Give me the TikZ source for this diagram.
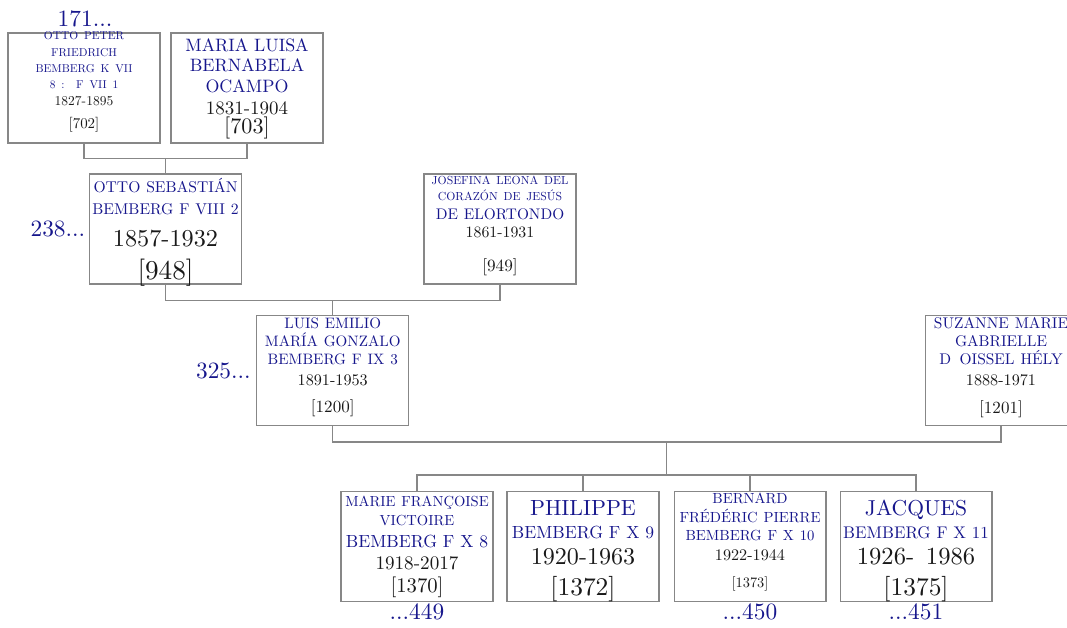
\documentclass[tikz,border=0pt]{standalone}
\usepackage{fontspec}
\setmainfont{lmroman10-regular}[Extension=.otf, BoldFont=lmroman10-bold,
  ItalicFont=lmroman10-italic, BoldItalicFont=lmroman10-bolditalic]
\usepackage{xcolor}
\usepackage{tikz}
\usetikzlibrary{positioning, calc}
\definecolor{nameBlue}{RGB}{22,22,140}
\definecolor{lineGray}{RGB}{135,135,135}
\definecolor{dateBlack}{RGB}{25,25,25}
\newcommand{\setfs}[2]{\fontsize{#1}{#2}\selectfont}
\newcommand{\nmc}{\color{nameBlue}}

\begin{document}
\begin{tikzpicture}[
    x=0.02cm, y=-0.02cm,
    person/.style={rectangle, draw=lineGray, line width=0.6pt, minimum width=3.04cm,
                   minimum height=2.2cm, inner sep=0pt},
    ptext/.style={text width=3.3cm, align=center, inner sep=0pt, text=dateBlack},
    link/.style={draw=lineGray, line width=0.6pt},
    refnum/.style={text=nameBlue, font=\setfs{13.3}{14}, inner sep=0pt},
  ]
    \useasboundingbox (0,0) rectangle (1067,628);

    % Grandparents
    \node[person] (p702) at (84,88) {};
    \node[ptext, below=-0.6pt of p702.north] (t702) {\setfs{6.5}{9.3}\nmc OTTO PETER\\ FRIEDRICH\\ BEMBERG K VII\\ 8 :\ \ F VII 1\par
      \color{dateBlack}\setfs{7.7}{9.3}1827-1895\par\setfs{8.5}{13.5}[702]\par};
    \node[person] (p703) at (247,88) {};
    \node[ptext, below=3.2pt of p703.north] (t703) {\setfs{10.2}{11.6}\nmc MARIA LUISA\\ BERNABELA\\ OCAMPO\par
      \color{dateBlack}\setfs{10.8}{12.5}1831-1904\par\setfs{12.6}{11.2}[703]\par};
    \node[refnum] (r171) at (85,19) {171...};

    % Parents
    \node[person] (p948) at (165.5,229) {};
    \node[ptext, below=2.8pt of p948.north] (t948) {\setfs{8.9}{12}\nmc OTTO SEBASTIÁN\\ BEMBERG F VIII 2\par
      \color{dateBlack}\setfs{13.8}{18.4}1857-1932\par\setfs{15.5}{18.6}[948]\par};
    \node[person] (p949) at (500,229) {};
    \node[ptext, below=1.2pt of p949.north] (t949) {\setfs{6.65}{9}\nmc JOSEFINA LEONA DEL\\ CORAZÓN DE JESÚS\par
      \setfs{8.75}{11}DE ELORTONDO\par
      \color{dateBlack}\setfs{9}{10}1861-1931\par\setfs{9.8}{19.8}[949]\par};
    \node[refnum, left=2pt of p948] (r238) {238...};

    % Couple
    \node[person] (p1200) at (332.75,370.5) {};
    \node[ptext, below=1.4pt of p1200.north] (t1200) {\setfs{8.6}{10.2}\nmc LUIS EMILIO\\ MARÍA GONZALO\\ BEMBERG F IX 3\par
      \color{dateBlack}\setfs{9.2}{12}1891-1953\par\setfs{9.7}{15.6}[1200]\par};
    \node[person] (p1201) at (1001,370.5) {};
    \node[ptext, below=1.4pt of p1201.north] (t1201) {\setfs{8.8}{10.2}\nmc SUZANNE MARIE\\ GABRIELLE\\ D\ \,OISSEL HÉLY\par
      \color{dateBlack}\setfs{9.2}{12}1888-1971\par\setfs{9.7}{15.6}[1201]\par};
    \node[refnum, left=3pt of p1200] (r325) {325...};

    % Children
    \node[person] (c1370) at (417,546.5) {};
    \node[ptext, below=2.5pt of c1370.north] (t1370) {\setfs{8.3}{10.8}\nmc MARIE FRANÇOISE\\ VICTOIRE\par
      \setfs{10}{12.6}BEMBERG F X 8\par
      \color{dateBlack}\setfs{10.9}{12.5}1918-2017\par\setfs{11.8}{13}[1370]\par};
    \node[person] (c1372) at (583,546.5) {};
    \node[ptext, below=5pt of c1372.north] (t1372) {\setfs{12.5}{14}\nmc PHILIPPE\par
      \setfs{10}{13.3}BEMBERG F X 9\par
      \color{dateBlack}\setfs{13.7}{14.6}1920-1963\par\setfs{14.5}{17.8}[1372]\par};
    \node[person] (c1373) at (750,546.5) {};
    \node[ptext, below=1.2pt of c1373.north] (t1373) {\setfs{8.35}{10.5}\nmc BERNARD\\ FRÉDÉRIC PIERRE\\ BEMBERG F X 10\par
      \color{dateBlack}\setfs{9.2}{11}1922-1944\par\setfs{8.2}{15.6}[1373]\par};
    \node[person] (c1375) at (916,546.5) {};
    \node[ptext, below=5pt of c1375.north] (t1375) {\setfs{12.3}{14}\nmc JACQUES\par
      \setfs{9.6}{13.3}BEMBERG F X 11\par
      \color{dateBlack}\setfs{14}{14.6}1926-\ \ 1986\par\setfs{14.5}{17.8}[1375]\par};
    \node[refnum, below=1pt of c1370] (r449) {...449};
    \node[refnum, below=1pt of c1373] (r450) {...450};
    \node[refnum, below=1pt of c1375] (r451) {...451};

    % Family links
    \draw[link] (p702.south) -- ++(0,15) coordinate (fam1) -| (p703.south);
    \draw[link] (p948.north) -- (p948.north |- fam1);
    \draw[link] (p948.south) -- ++(0,16) coordinate (fam2) -| (p949.south);
    \draw[link] (p1200.north) -- (p1200.north |- fam2);
    \draw[link] (p1200.south) -- ++(0,16) -| (p1201.south);
    \coordinate (fam3) at ($(p1200.south)!0.5!(p1201.south)+(0,16)$);
    \draw[link] (c1370.north) -- ++(0,-16) coordinate (kids) -| (c1375.north);
    \draw[link] (c1372.north) -- (c1372.north |- kids);
    \draw[link] (c1373.north) -- (c1373.north |- kids);
    \draw[link] (fam3) -- (fam3 |- kids);
  \end{tikzpicture}
\end{document}
